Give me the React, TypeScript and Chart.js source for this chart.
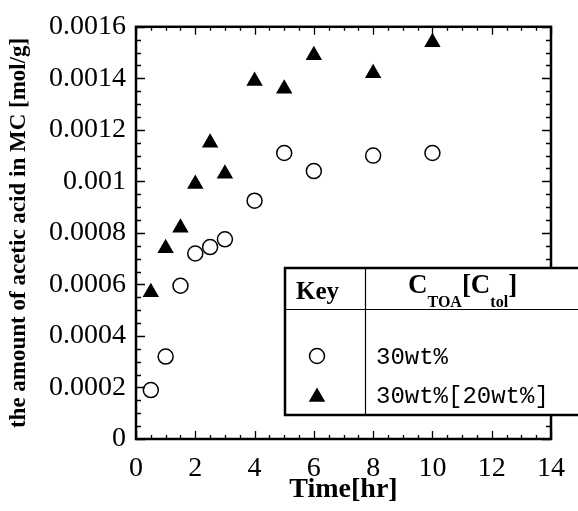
import React, { useEffect, useRef } from "react";
import { Chart, registerables } from "chart.js";

Chart.register(...registerables);

const times = [0.5, 1, 1.5, 2, 2.5, 3, 4, 5, 6, 8, 10];
const series30 = [0.00019, 0.00032, 0.000595, 0.00072, 0.000745, 0.000775, 0.000925, 0.00111, 0.00104, 0.0011, 0.00111];
const series30tol20 = [0.00057, 0.00074, 0.00082, 0.00099, 0.00115, 0.00103, 0.00139, 0.00136, 0.00149, 0.00142, 0.00154];
const yTickLabels = ["0", "0.0002", "0.0004", "0.0006", "0.0008", "0.001", "0.0012", "0.0014", "0.0016"];
const legendLabels = ["30wt%", "30wt%[20wt%]"];
const xTitle = "Time[hr]";
const yTitle = "the amount of acetic acid in MC [mol/g]";

const W = 578;
const H = 511;

function drawTriangle(ctx: CanvasRenderingContext2D, x: number, y: number, r: number) {
  ctx.beginPath();
  ctx.moveTo(x, y - r);
  ctx.lineTo(x + 0.866 * r, y + r / 2);
  ctx.lineTo(x - 0.866 * r, y + r / 2);
  ctx.closePath();
  ctx.fill();
}

const framePlugin = {
  id: "frame",
  afterDraw(chart: any) {
    const ctx: CanvasRenderingContext2D = chart.ctx;
    const { left, right, top, bottom } = chart.chartArea;
    const xs = chart.scales.x;
    const ys = chart.scales.y;
    ctx.save();
    ctx.strokeStyle = "#000";
    ctx.lineWidth = 1.3;
    ctx.beginPath();
    for (let i = 0; i <= 28; i++) {
      const px = Math.round(xs.getPixelForValue(i * 0.5)) + 0.5;
      const len = i % 4 === 0 ? 8 : 4;
      ctx.moveTo(px, bottom);
      ctx.lineTo(px, bottom - len);
      ctx.moveTo(px, top);
      ctx.lineTo(px, top + len);
    }
    for (let i = 0; i <= 32; i++) {
      const py = Math.round(ys.getPixelForValue(i * 0.00005)) + 0.5;
      const len = i % 4 === 0 ? 9 : 5;
      ctx.moveTo(left, py);
      ctx.lineTo(left + len, py);
      ctx.moveTo(right, py);
      ctx.lineTo(right - len, py);
    }
    ctx.stroke();
    ctx.lineWidth = 2.5;
    ctx.strokeRect(left, top, right - left, bottom - top);

    // legend table
    const bx = 285, by = 268, bb = 415, vx = 365, hy = 309;
    ctx.fillStyle = "#fff";
    ctx.fillRect(bx, by, W - bx + 10, bb - by);
    ctx.lineWidth = 2.5;
    ctx.strokeRect(bx, by, W - bx + 20, bb - by);
    ctx.lineWidth = 1.2;
    ctx.beginPath();
    ctx.moveTo(bx, hy + 0.5);
    ctx.lineTo(W, hy + 0.5);
    ctx.moveTo(vx + 0.5, by);
    ctx.lineTo(vx + 0.5, bb);
    ctx.stroke();

    ctx.fillStyle = "#000";
    ctx.textBaseline = "alphabetic";
    ctx.textAlign = "left";
    ctx.font = "bold 25px 'Liberation Serif'";
    ctx.fillText("Key", 296, 299);
    let cx = 408;
    const parts: [string, boolean][] = [["C", false], ["TOA", true], ["[C", false], ["tol", true], ["]", false]];
    for (const [t, sub] of parts) {
      ctx.font = sub ? "bold 16px 'Liberation Serif'" : "bold 27px 'Liberation Serif'";
      ctx.fillText(t, cx, sub ? 307 : 293);
      cx += ctx.measureText(t).width;
    }
    // symbols
    ctx.lineWidth = 1.5;
    ctx.beginPath();
    ctx.arc(317, 356, 7.5, 0, Math.PI * 2);
    ctx.fillStyle = "#fff";
    ctx.fill();
    ctx.stroke();
    ctx.fillStyle = "#000";
    drawTriangle(ctx, 317, 397, 9.5);
    ctx.font = "24px 'Liberation Mono'";
    ctx.fillText(legendLabels[0], 376, 364);
    ctx.fillText(legendLabels[1], 376, 403);
    ctx.restore();
  },
};

export default function App() {
  const ref = useRef<HTMLCanvasElement>(null);
  useEffect(() => {
    document.body.style.margin = "0";
    const chart = new Chart(ref.current!, {
      type: "scatter",
      data: {
        datasets: [
          {
            label: legendLabels[0],
            data: times.map((t, i) => ({ x: t, y: series30[i] })),
            pointStyle: "circle",
            pointRadius: 7.5,
            pointBackgroundColor: "#fff",
            pointBorderColor: "#000",
            pointBorderWidth: 1.5,
          },
          {
            label: legendLabels[1],
            data: times.map((t, i) => ({ x: t, y: series30tol20[i] })),
            pointStyle: "triangle",
            pointRadius: 9.5,
            pointBackgroundColor: "#000",
            pointBorderColor: "#000",
            pointBorderWidth: 0,
          },
        ],
      },
      options: {
        responsive: false,
        animation: false,
        layout: { padding: { top: 23, right: 22, left: 0, bottom: 0 } },
        plugins: { legend: { display: false }, tooltip: { enabled: false } },
        scales: {
          x: {
            type: "linear",
            min: 0,
            max: 14,
            grid: { display: false, drawTicks: false },
            border: { display: false },
            ticks: {
              stepSize: 2,
              padding: 13,
              color: "#000",
              font: { family: "'Liberation Serif'", size: 28 },
              maxRotation: 0,
            },
            title: {
              display: true,
              text: xTitle,
              color: "#000",
              font: { family: "'Liberation Serif'", size: 28, weight: "bold" },
              padding: { top: 0, bottom: 4 },
            },
            afterFit: (s: any) => {
              s.height = 72;
            },
          },
          y: {
            type: "linear",
            min: 0,
            max: 0.0016,
            grid: { display: false, drawTicks: false },
            border: { display: false },
            ticks: {
              stepSize: 0.0002,
              padding: 10,
              color: "#000",
              font: { family: "'Liberation Serif'", size: 28 },
              callback: (_v: any, i: number) => yTickLabels[i],
            },
            title: {
              display: true,
              text: yTitle,
              color: "#000",
              font: { family: "'Liberation Serif'", size: 23, weight: "bold" },
              padding: { top: 5, bottom: 0 },
            },
            afterFit: (s: any) => {
              s.width = 136;
            },
          },
        },
      } as any,
      plugins: [framePlugin],
    });
    return () => chart.destroy();
  }, []);
  return <canvas ref={ref} width={W} height={H} style={{ display: "block" }} />;
}
